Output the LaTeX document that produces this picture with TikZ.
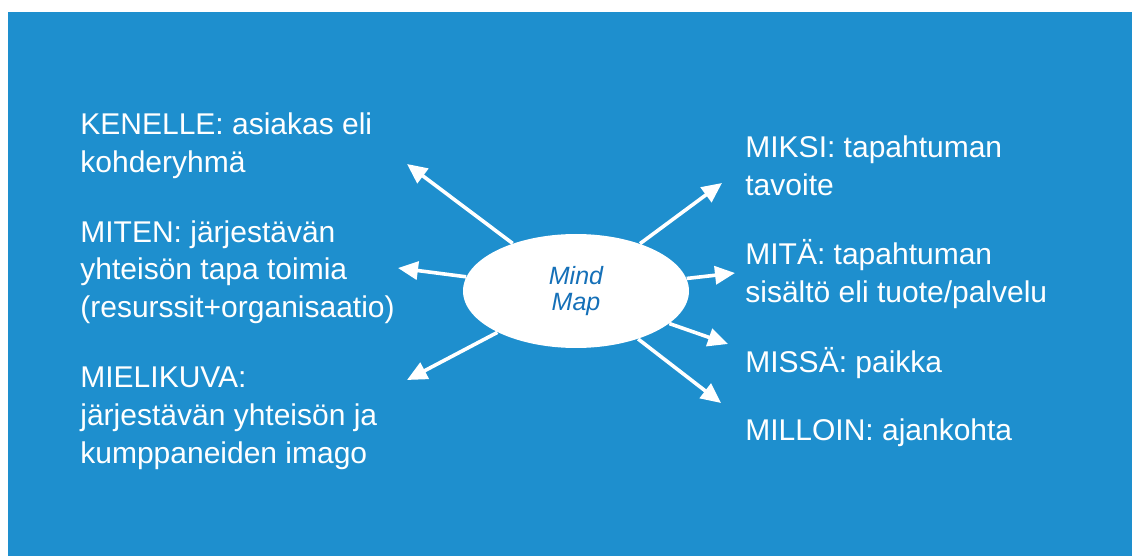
\documentclass[tikz,border=0pt]{standalone}
\usepackage{fontspec}
\setmainfont{Liberation Sans}
\usetikzlibrary{positioning,arrows.meta,shapes.geometric}
\definecolor{fondo}{RGB}{30,143,206}
\definecolor{azulmind}{RGB}{21,112,184}

\begin{document}
\begin{tikzpicture}[x=0.5pt,y=-0.5pt,texto/.style={anchor=base west,align=left,text=white,inner sep=0pt,font=\fontsize{15}{19}\selectfont},flecha/.style={white,line width=1.8pt,-{Triangle[length=10pt,width=9pt]}}] %coordenadas en pixeles, y para abajo
    \useasboundingbox (0,0) rectangle (1132,556);
    \fill[fondo] (8,12) rectangle (1132,556); %El fondo azul

    %La elipse del medio
    \node[ellipse,fill=white,minimum width=113pt,minimum height=57pt,inner sep=0pt,align=center,text=azulmind,font=\fontsize{12.5}{13}\selectfont\itshape] (mind) at (576,291) {Mind\\Map};

    %Textos de la izquierda (ojo: el base es la ultima linea)
    \node[texto] (kenelle) at (80,173) {KENELLE: asiakas eli\\kohderyhmä};
    \node[texto] (miten) at (80,318) {MITEN: järjestävän\\yhteisön tapa toimia\\(resurssit+organisaatio)};
    \node[texto] (mielikuva) at (80,463) {MIELIKUVA:\\järjestävän yhteisön ja\\kumppaneiden imago};

    %Textos de la derecha
    \node[texto] (miksi) at (745,196) {MIKSI: tapahtuman\\tavoite};
    \node[texto] (mita) at (745,303) {MITÄ: tapahtuman\\sisältö eli tuote/palvelu};
    \node[texto] (missa) at (745,372) {MISSÄ: paikka};
    \node[texto] (milloin) at (745,440) {MILLOIN: ajankohta};

    %Las puntas de las flechas
    \coordinate (pkenelle) at (407,164);
    \coordinate (pmiten) at (398,268);
    \coordinate (pmielikuva) at (407,380);
    \coordinate (pmiksi) at (722,183);
    \coordinate (pmita) at (735,273);
    \coordinate (pmissa) at (728,344);
    \coordinate (pmilloin) at (721,403);

    %Flechas desde la elipse
    \draw[flecha] (mind) -- (pkenelle);
    \draw[flecha] (mind) -- (pmiten);
    \draw[flecha] (mind) -- (pmielikuva);
    \draw[flecha] (mind) -- (pmiksi);
    \draw[flecha] (mind) -- (pmita);
    \draw[flecha] (mind) -- (pmissa);
    \draw[flecha] (mind) -- (pmilloin);
\end{tikzpicture}
\end{document}
